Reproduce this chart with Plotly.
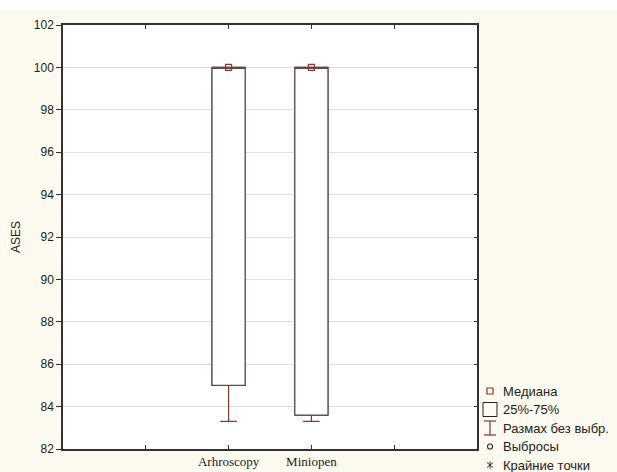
import plotly.graph_objects as go

groups = ["Arhroscopy", "Miniopen"]
positions = [1, 2]
medians = [100, 100]
q1 = [85.0, 83.6]
q3 = [100, 100]
whisk_lo = [83.3, 83.3]
whisk_hi = [100, 100]

y_ticks = list(range(82, 103, 2))
legend_labels = ["Медиана", "25%-75%", "Размах без выбр.", "Выбросы", "Крайние точки"]

box_col = "#5e4848"
whisk_col = "#8a3434"
bg = "#fdfaf0"

L, R, T, B = 63, 140, 25, 23
W, H = 617, 472
pw, ph = W - L - R, H - T - B

def px(x):
    return (x - L) / pw

def py(y):
    return (H - B - y) / ph

fig = go.Figure()
fig.add_trace(go.Box(
    x=positions, q1=q1, median=medians, q3=q3,
    lowerfence=whisk_lo, upperfence=whisk_hi,
    width=0.4, whiskerwidth=0.5,
    line=dict(color=whisk_col, width=1.2),
    fillcolor="rgba(255,255,255,1)", showlegend=False, hoverinfo="skip",
))
fig.add_trace(go.Box(
    x=positions, q1=q1, median=medians, q3=q3,
    lowerfence=q1, upperfence=q3,
    width=0.4, whiskerwidth=0.5,
    line=dict(color=box_col, width=1.2),
    fillcolor="rgba(255,255,255,1)", showlegend=False, hoverinfo="skip",
))
fig.add_trace(go.Scatter(
    x=positions, y=medians, mode="markers",
    marker=dict(symbol="square-open", size=6, color=whisk_col, line=dict(width=1.2)),
    showlegend=False, hoverinfo="skip",
))
fig.add_trace(go.Scatter(x=[positions[0]], y=[medians[0]], yaxis="y2", mode="markers",
                         marker=dict(opacity=0), showlegend=False, hoverinfo="skip"))

fig.update_layout(
    template="none",
    width=W, height=H,
    margin=dict(l=L, r=R, t=T, b=B, autoexpand=False),
    paper_bgcolor=bg, plot_bgcolor="white",
    font=dict(family="Liberation Sans, Arial, sans-serif", size=12, color="#222"),
    boxmode="overlay",
    xaxis=dict(
        range=[-1, 4], tickvals=[0, 1, 2, 3], ticktext=["", groups[0], groups[1], ""],
        ticks="inside", ticklen=4, tickcolor="#333", showgrid=False, zeroline=False,
        showline=True, linecolor="#333", linewidth=1.5, mirror="ticks", automargin=False,
        tickfont=dict(family="Liberation Serif, Times New Roman, serif", size=13, color="#222"),
    ),
    yaxis=dict(
        range=[82, 102], tickvals=y_ticks, ticks="outside", ticklen=5, tickcolor="#333",
        showgrid=True, gridcolor="#e0e0e0", gridwidth=1, zeroline=False,
        showline=True, linecolor="#333", linewidth=1.5, mirror=True, automargin=False,
        title=dict(text="ASES", font=dict(size=12, color="#222"), standoff=11),
        tickfont=dict(size=12, color="#222"),
    ),
    yaxis2=dict(
        range=[82, 102], tickvals=y_ticks, overlaying="y", side="right",
        ticks="inside", ticklen=3, tickcolor="#333", showticklabels=False,
        showgrid=False, zeroline=False, showline=False, automargin=False,
    ),
)

fig.add_shape(type="rect", xref="paper", yref="paper", x0=px(-5), x1=px(W + 5), y0=py(10), y1=py(-5),
              fillcolor="white", line=dict(width=0), layer="above")

leg_y = [391, 409.5, 428, 446.5, 465]
sx = 490
for lab, yy in zip(legend_labels, leg_y):
    fig.add_annotation(xref="paper", yref="paper", x=px(sx + 11), y=py(yy), text=lab,
                       showarrow=False, xanchor="left", yanchor="middle",
                       font=dict(size=13, color="#222"))

def seg(x0, y0, x1, y1, color, w=1.2):
    fig.add_shape(type="line", xref="paper", yref="paper", x0=px(x0), x1=px(x1), y0=py(y0), y1=py(y1),
                  line=dict(color=color, width=w))

fig.add_shape(type="rect", xref="paper", yref="paper", x0=px(sx - 3), x1=px(sx + 3),
              y0=py(leg_y[0]) - 3 / ph, y1=py(leg_y[0]) + 3 / ph,
              line=dict(color=whisk_col, width=1.2))
fig.add_shape(type="rect", xref="paper", yref="paper", x0=px(sx - 7), x1=px(sx + 7),
              y0=py(leg_y[1]) - 7 / ph, y1=py(leg_y[1]) + 7 / ph,
              line=dict(color="#222", width=1))
yc = leg_y[2]
seg(sx - 6, yc - 7, sx + 6, yc - 7, whisk_col)
seg(sx - 6, yc + 7, sx + 6, yc + 7, whisk_col)
seg(sx, yc - 7, sx, yc + 7, whisk_col)
fig.add_shape(type="circle", xref="paper", yref="paper", x0=px(sx - 2.5), x1=px(sx + 2.5),
              y0=py(leg_y[3]) - 2.5 / ph, y1=py(leg_y[3]) + 2.5 / ph,
              line=dict(color="#333", width=1.2))
ya = leg_y[4]
seg(sx, ya - 3.5, sx, ya + 3.5, "#333", 1)
seg(sx - 3, ya - 2.5, sx + 3, ya + 2.5, "#333", 1)
seg(sx - 3, ya + 2.5, sx + 3, ya - 2.5, "#333", 1)

fig.write_html("out.html", config={"displayModeBar": False},
               post_script="document.body.style.margin='0';document.body.style.overflow='hidden';")
